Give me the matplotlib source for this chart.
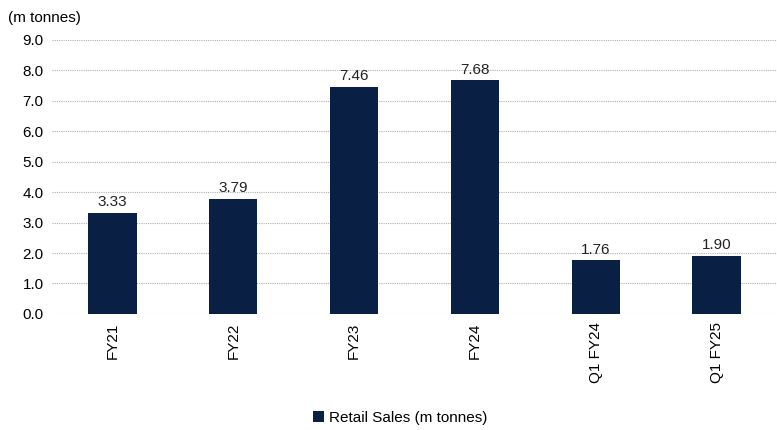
import matplotlib.pyplot as plt
import numpy as np

plt.rcParams['font.family'] = ['Liberation Sans Narrow', 'Liberation Sans', 'DejaVu Sans']

periods = ["FY21", "FY22", "FY23", "FY24", "Q1 FY24", "Q1 FY25"]
retail_sales = [3.33, 3.79, 7.46, 7.68, 1.76, 1.90]

navy = "#0a1f44"

fig = plt.figure(figsize=(7.77, 4.30), dpi=100)
ax = fig.add_axes([0.067, 0.270, 0.933, 0.637])

x = np.arange(len(periods))
bars = ax.bar(x, retail_sales, width=0.4, color=navy, label="Retail Sales (m tonnes)", zorder=3)

for xi, v in zip(x, retail_sales):
    ax.text(xi, v + 0.12, f"{v:.2f}", ha="center", va="bottom", fontsize=11, color="#222222")

ax.set_xlim(-0.5, len(periods) - 0.5)
ax.set_ylim(0, 9)
ax.set_yticks(np.arange(0, 9.1, 1.0))
ax.set_yticklabels([f"{t:.1f}" for t in np.arange(0, 9.1, 1.0)], fontsize=11)
ax.set_xticks(x)
ax.set_xticklabels(periods, rotation=90, fontsize=11)
ax.tick_params(length=0, pad=6)

ax.yaxis.grid(True, linestyle=(0, (1, 1)), color="#b0b0b0", linewidth=0.8, zorder=0)
for s in ax.spines.values():
    s.set_visible(False)

fig.text(0.010, 0.957, "(m tonnes)", fontsize=11, ha="left", va="center")

fig.legend(handles=[bars], labels=["Retail Sales (m tonnes)"], loc="center",
           bbox_to_anchor=(0.515, 0.028), frameon=False, fontsize=11,
           handlelength=0.7, handleheight=0.7, handletextpad=0.3)

fig.savefig("out.png", dpi=100)
